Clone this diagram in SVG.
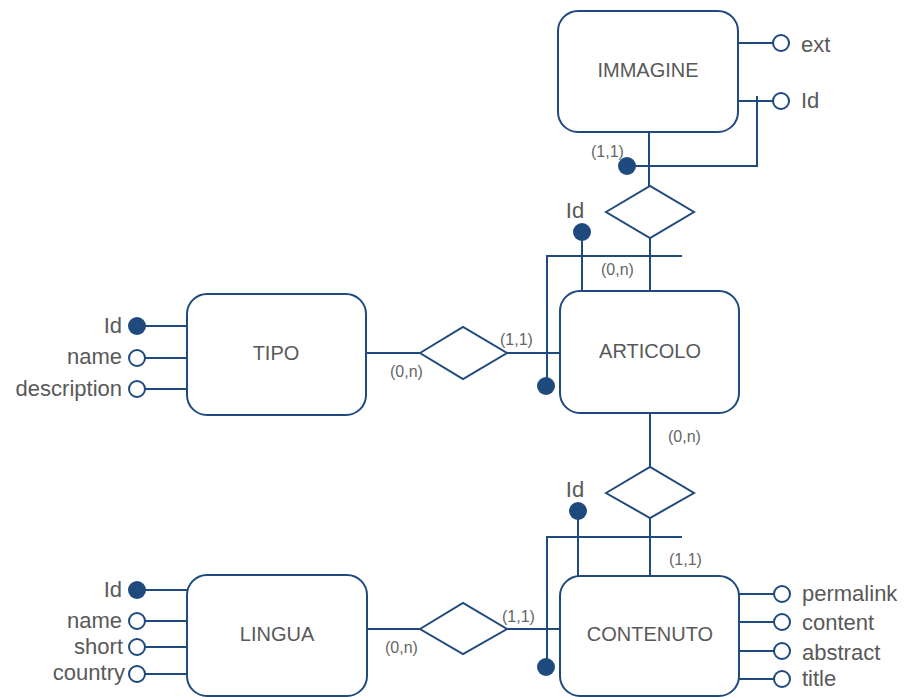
<svg xmlns="http://www.w3.org/2000/svg" width="906" height="697" viewBox="0 0 906 697">
  <style>
    .ent { fill: #ffffff; stroke: #1f4a7e; stroke-width: 2; }
    .rel { fill: #ffffff; stroke: #1f4a7e; stroke-width: 2; }
    .ln { fill: none; stroke: #1f4a7e; stroke-width: 2; }
    .key { fill: #1f4a7e; }
    .att { fill: #ffffff; stroke: #1f4a7e; stroke-width: 2; }
    .name { font-family: "Liberation Sans", Arial, sans-serif; font-size: 20px; fill: #595959; text-anchor: middle; }
    .lbl { font-family: "Liberation Sans", Arial, sans-serif; font-size: 22px; fill: #595959; }
    .card { font-family: "Liberation Sans", Arial, sans-serif; font-size: 16px; fill: #666666; }
    .r { text-anchor: end; }
  </style>
  <rect width="906" height="697" fill="#ffffff"/>

  <!-- connectors -->
  <g id="connectors">
    <!-- IMMAGINE - relationship - ARTICOLO -->
    <path class="ln" d="M649 132 V186"/>
    <path class="ln" d="M650 238 V291"/>
    <!-- IMMAGINE external identifier -->
    <path class="ln" d="M757 96 V166 H627"/>
    <!-- ARTICOLO identifier bar -->
    <path class="ln" d="M582 232 V291"/>
    <path class="ln" d="M682 256 H547 V386"/>
    <!-- TIPO - relationship - ARTICOLO -->
    <path class="ln" d="M366 353 H420"/>
    <path class="ln" d="M507 353 H560"/>
    <!-- ARTICOLO - relationship - CONTENUTO -->
    <path class="ln" d="M650 413 V467"/>
    <path class="ln" d="M650 518 V576"/>
    <!-- CONTENUTO identifier bar -->
    <path class="ln" d="M578 511 V576"/>
    <path class="ln" d="M682 537 H547 V667"/>
    <!-- LINGUA - relationship - CONTENUTO -->
    <path class="ln" d="M367 629 H420"/>
    <path class="ln" d="M507 629 H560"/>

    <circle class="key" cx="627" cy="166" r="9"/>
    <circle class="key" cx="582" cy="232" r="9"/>
    <circle class="key" cx="546" cy="386" r="9"/>
    <circle class="key" cx="578" cy="511" r="9"/>
    <circle class="key" cx="546" cy="667" r="9"/>

    <text class="card" x="591" y="157">(1,1)</text>
    <text class="card" x="601" y="275">(0,n)</text>
    <text class="card" x="500" y="345">(1,1)</text>
    <text class="card" x="390" y="377">(0,n)</text>
    <text class="card" x="668" y="442">(0,n)</text>
    <text class="card" x="669" y="565">(1,1)</text>
    <text class="card" x="502" y="622">(1,1)</text>
    <text class="card" x="385" y="653">(0,n)</text>

    <text class="lbl" x="575" y="218" text-anchor="middle">Id</text>
    <text class="lbl" x="575" y="497" text-anchor="middle">Id</text>
  </g>

  <!-- relationships -->
  <g id="rel-immagine-articolo">
    <polygon class="rel" points="606,212 650,186 694,212 650,238"/>
  </g>
  <g id="rel-tipo-articolo">
    <polygon class="rel" points="420,353 463,327 507,353 463,379"/>
  </g>
  <g id="rel-articolo-contenuto">
    <polygon class="rel" points="606,493 650,467 694,493 650,518"/>
  </g>
  <g id="rel-lingua-contenuto">
    <polygon class="rel" points="420,629 463,603 507,629 463,654"/>
  </g>

  <!-- IMMAGINE -->
  <g id="immagine">
    <rect class="ent" x="558" y="11" width="180" height="121" rx="20"/>
    <text class="name" x="648" y="77">IMMAGINE</text>
    <path class="ln" d="M738 43 H773 M738 101 H773"/>
    <circle class="att" cx="781" cy="43" r="8"/>
    <circle class="att" cx="781" cy="101" r="8"/>
    <text class="lbl" x="801" y="52">ext</text>
    <text class="lbl" x="801" y="108">Id</text>
  </g>

  <!-- ARTICOLO -->
  <g id="articolo">
    <rect class="ent" x="560" y="291" width="179" height="122" rx="20"/>
    <text class="name" x="650" y="358">ARTICOLO</text>
  </g>

  <!-- TIPO -->
  <g id="tipo">
    <rect class="ent" x="187" y="294" width="179" height="121" rx="20"/>
    <text class="name" x="276" y="360">TIPO</text>
    <path class="ln" d="M145 326 H187 M145 358 H187 M145 389 H187"/>
    <circle class="key" cx="137" cy="326" r="9"/>
    <circle class="att" cx="137" cy="358" r="8"/>
    <circle class="att" cx="137" cy="389" r="8"/>
    <text class="lbl r" x="122" y="333">Id</text>
    <text class="lbl r" x="122" y="364">name</text>
    <text class="lbl r" x="122" y="396">description</text>
  </g>

  <!-- CONTENUTO -->
  <g id="contenuto">
    <rect class="ent" x="560" y="576" width="179" height="120" rx="20"/>
    <text class="name" x="650" y="641">CONTENUTO</text>
    <path class="ln" d="M739 594 H774 M739 622 H774 M739 651 H774 M739 679 H774"/>
    <circle class="att" cx="782" cy="594" r="8"/>
    <circle class="att" cx="782" cy="622" r="8"/>
    <circle class="att" cx="782" cy="651" r="8"/>
    <circle class="att" cx="782" cy="679" r="8"/>
    <text class="lbl" x="802" y="601">permalink</text>
    <text class="lbl" x="802" y="630">content</text>
    <text class="lbl" x="802" y="660">abstract</text>
    <text class="lbl" x="802" y="686">title</text>
  </g>

  <!-- LINGUA -->
  <g id="lingua">
    <rect class="ent" x="187" y="575" width="180" height="121" rx="20"/>
    <text class="name" x="277" y="641">LINGUA</text>
    <path class="ln" d="M145 590 H187 M145 621 H187 M145 647 H187 M145 674 H187"/>
    <circle class="key" cx="137" cy="590" r="9"/>
    <circle class="att" cx="137" cy="621" r="8"/>
    <circle class="att" cx="137" cy="647" r="8"/>
    <circle class="att" cx="137" cy="674" r="8"/>
    <text class="lbl r" x="122" y="597">Id</text>
    <text class="lbl r" x="122" y="628">name</text>
    <text class="lbl r" x="123" y="654">short</text>
    <text class="lbl r" x="125" y="680">country</text>
  </g>
</svg>
